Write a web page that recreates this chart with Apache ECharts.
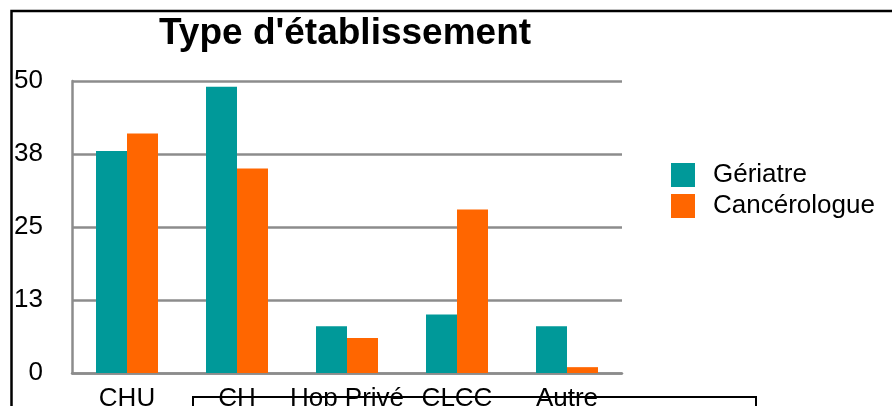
<!DOCTYPE html>
<html>
<head>
<meta charset="utf-8">
<script src="https://cdn.jsdelivr.net/npm/echarts@6/dist/echarts.min.js"></script>
<style>
html,body{margin:0;padding:0;background:#fff;}
#chart{width:892px;height:406px;}
</style>
</head>
<body>
<div id="chart"></div>
<script>
const categories = ['CHU', 'CH', 'Hop Privé', 'CLCC', 'Autre'];
const geriatre = [38, 49, 8, 10, 8];
const cancerologue = [41, 35, 6, 28, 1];
const seriesNames = ['Gériatre', 'Cancérologue'];
const yMin = 0, yMax = 50, yInterval = 12.5;

const FONT = '"Liberation Sans", Arial, sans-serif';
const chart = echarts.init(document.getElementById('chart'), null, {renderer: 'canvas'});
chart.setOption({
  animation: false,
  backgroundColor: '#ffffff',
  title: {
    text: "Type d'établissement",
    left: 159,
    top: 15,
    padding: 0,
    textStyle: {fontFamily: FONT, fontSize: 37, fontWeight: 'bold', color: '#000'}
  },
  legend: {
    orient: 'vertical',
    left: 671,
    top: 162,
    itemWidth: 24,
    itemHeight: 24,
    itemGap: 5,
    icon: 'rect',
    padding: 0,
    textStyle: {fontFamily: FONT, fontSize: 26, color: '#000', padding: [0, 0, 0, 13]},
    data: seriesNames
  },
  grid: {left: 72, right: 270, top: 81, bottom: 33, containLabel: false, outerBoundsMode: 'none'},
  xAxis: {
    type: 'category',
    data: categories,
    axisTick: {show: false},
    axisLine: {lineStyle: {color: '#8c8c8c', width: 2.5}},
    axisLabel: {fontFamily: FONT, fontSize: 26, color: '#000', margin: 13, interval: 0}
  },
  yAxis: {
    type: 'value',
    min: yMin, max: yMax, interval: yInterval,
    axisTick: {show: false},
    axisLine: {show: true, lineStyle: {color: '#8c8c8c', width: 2.5}},
    splitLine: {lineStyle: {color: '#8c8c8c', width: 2.5}},
    axisLabel: {fontFamily: FONT, fontSize: 26, color: '#000', margin: 29,
      formatter: v => String(Math.round(v))}
  },
  series: [
    {name: seriesNames[0], type: 'bar', data: geriatre, barWidth: 31, barGap: '0%',
     itemStyle: {color: '#009999'}},
    {name: seriesNames[1], type: 'bar', data: cancerologue, barWidth: 31, barGap: '0%',
     itemStyle: {color: '#ff6600'}}
  ],
  graphic: [
    {type: 'rect', z: 100, silent: true,
     shape: {x: 11.5, y: 11, width: 1000, height: 1000},
     style: {fill: 'none', stroke: '#000', lineWidth: 2.5}},
    {type: 'rect', z: 100, silent: true,
     shape: {x: 193, y: 397, width: 563, height: 100},
     style: {fill: 'none', stroke: '#000', lineWidth: 2}}
  ]
});
</script>
</body>
</html>
